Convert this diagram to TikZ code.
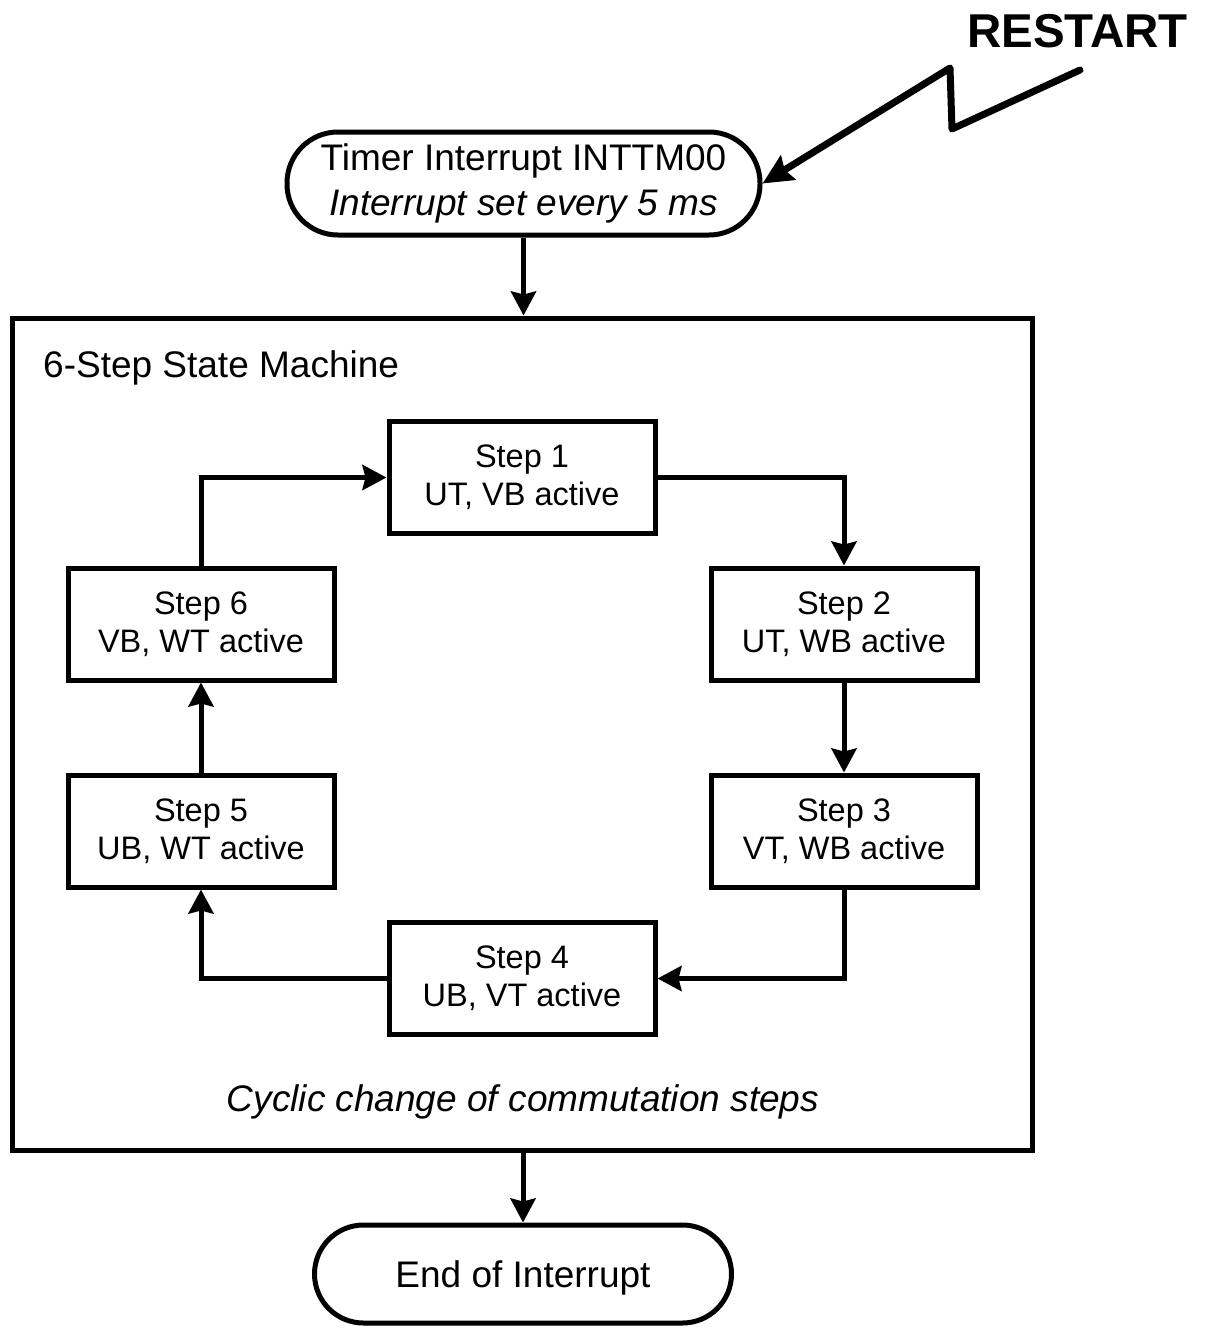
\documentclass[tikz,border=0pt]{standalone}
\usepackage{fontspec}
\setmainfont{Liberation Sans}
\usetikzlibrary{arrows.meta}
\begin{document}
\begin{tikzpicture}[x=1pt,y=-1pt,
  every node/.style={inner sep=0pt},
  mainfont/.style={font=\fontsize{37}{45}\selectfont},
  term/.style={draw, line width=5pt, align=center, mainfont},
  stepbox/.style={draw, line width=5pt, minimum width=266pt, minimum height=112pt, align=center, font=\fontsize{32.5}{38}\selectfont},
  arr/.style={line width=5pt, -{Stealth[length=24pt,width=25pt,inset=3pt]}},
  zig/.style={line width=7pt, line join=round, line cap=round, -{Stealth[length=30pt,width=28pt,inset=4pt]}}
]
\fill[white] (0,0) rectangle (1205,1331);
\useasboundingbox (0,0) rectangle (1205,1331);

% terminators
\node[term, minimum width=473pt, minimum height=103pt, rounded corners=51pt] (start) at (523.5,183.5)
  {Timer Interrupt INTTM00\\\textit{Interrupt set every 5 ms}};
\node[term, minimum width=417pt, minimum height=98pt, rounded corners=49pt, text depth=0pt] (end) at (523,1274)
  {End of Interrupt};

% state machine frame
\node[draw, line width=5pt, minimum width=1020pt, minimum height=832pt] (sm) at (522,734) {};
\node[anchor=base west, mainfont] (title) at (43,377) {6-Step State Machine};
\node[anchor=base, mainfont] (cyc) at (523,1111) {\textit{Cyclic change of commutation steps}};

% steps
\node[stepbox] (s1) at (522,477.5) {Step 1\\UT, VB active};
\node[stepbox] (s2) at (844,624) {Step 2\\UT, WB active};
\node[stepbox] (s3) at (844,831) {Step 3\\VT, WB active};
\node[stepbox] (s4) at (522,978.5) {Step 4\\UB, VT active};
\node[stepbox] (s5) at (201,831) {Step 5\\UB, WT active};
\node[stepbox] (s6) at (201,624) {Step 6\\VB, WT active};

\draw[arr] (s1.east) -| (s2.north);
\draw[arr] (s2.south) -- (s3.north);
\draw[arr] (s3.south) |- (s4.east);
\draw[arr] (s4.west) -| (s5.south);
\draw[arr] (s5.north) -- (s6.south);
\draw[arr] (s6.north) |- (s1.west);

% flow
\draw[arr] (start.south) -- (start.south |- sm.north);
\draw[arr] (sm.south -| end.north) -- (end.north);

% restart
\node[anchor=base, font=\fontsize{47.5}{57}\selectfont\bfseries] (restart) at (1077.5,47) {RESTART};
\coordinate (z0) at (1080,70);
\coordinate (z1) at (952,129);
\coordinate (z2) at (950,68);
\draw[zig] (z0) -- (z1) -- (z2) -- (start.east);
\end{tikzpicture}
\end{document}
